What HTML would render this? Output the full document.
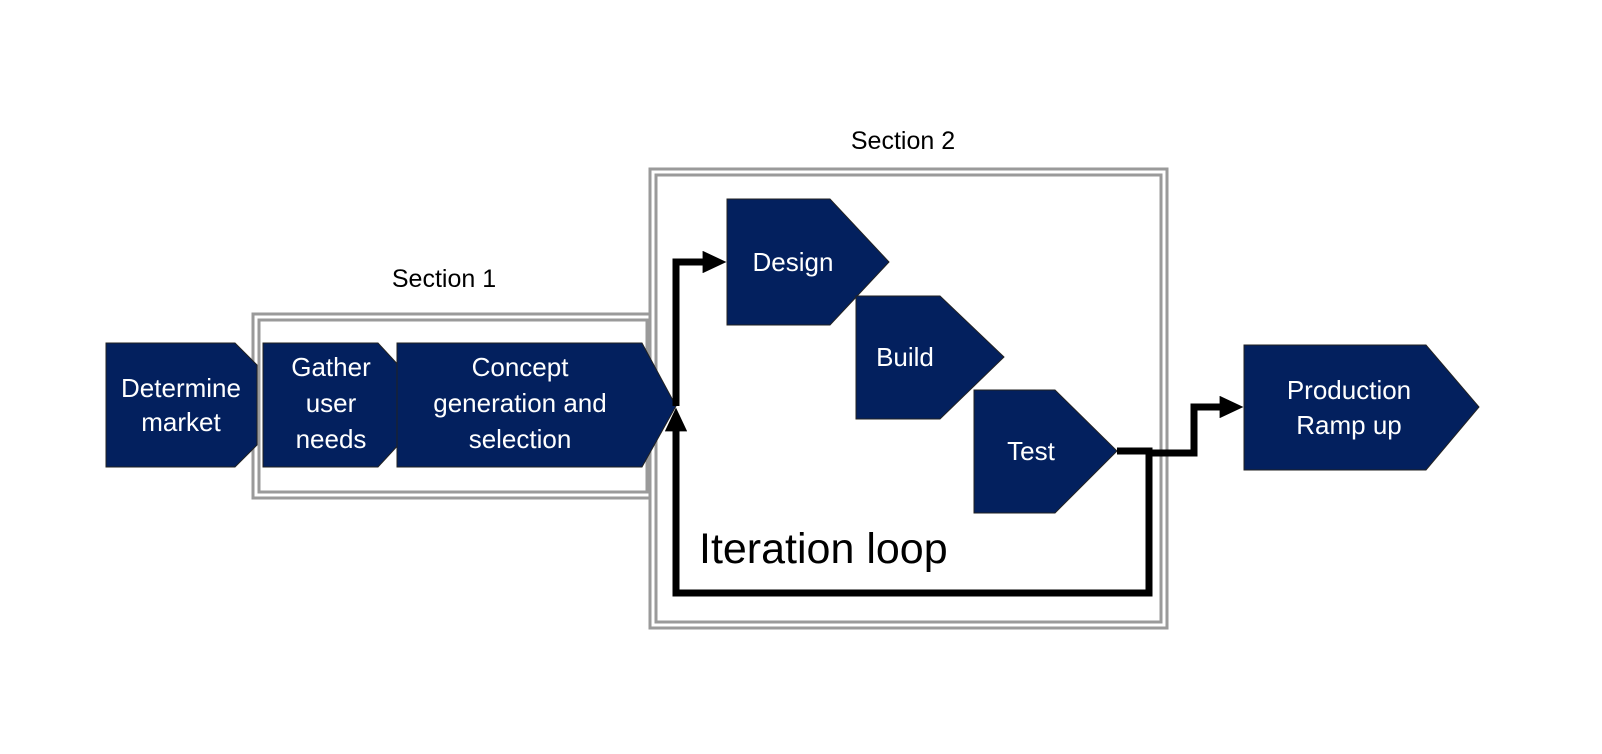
<!DOCTYPE html>
<html><head><meta charset="utf-8"><style>html,body{margin:0;padding:0;background:#fff}svg{display:block}</style></head>
<body>
<svg width="1602" height="754" viewBox="0 0 1602 754" xmlns="http://www.w3.org/2000/svg" font-family="Liberation Sans, sans-serif">
<defs>
<marker id="ah" markerWidth="3.4" markerHeight="3.2" refX="0.2" refY="1.6" orient="auto" markerUnits="strokeWidth"><path d="M0,0 L3.4,1.6 L0,3.2 z" fill="#000"/></marker>
</defs>
<rect x="256" y="317" width="394" height="178" fill="none" stroke="#9a9a9a" stroke-width="9"/>
<rect x="256" y="317" width="394" height="178" fill="none" stroke="#fff" stroke-width="3"/>
<rect x="653" y="172" width="511" height="453" fill="none" stroke="#9a9a9a" stroke-width="9"/>
<rect x="653" y="172" width="511" height="453" fill="none" stroke="#fff" stroke-width="3"/>
<g fill="#03205e" stroke="#222" stroke-width="1">
<polygon points="106,343 235,343 257,365 257,445 235,467 106,467"/>
<polygon points="263,343 378,343 401,368 401,442 378,467 263,467"/>
<polygon points="397,343 642,343 676,406 642,467 397,467"/>
<polygon points="727,199 830,199 889,262 830,325 727,325"/>
<polygon points="856,296 940,296 1004,357 940,419 856,419"/>
<polygon points="974,390 1055,390 1117,451 1055,513 974,513"/>
<polygon points="1244,345 1426,345 1479,407 1426,470 1244,470"/>
</g>
<g fill="none" stroke="#000" stroke-width="7">
<polyline points="676,406 676,262 704,262" marker-end="url(#ah)"/>
<polyline points="1117,451 1149,451 1149,593 676,593 676,430" marker-end="url(#ah)"/>
<polyline points="1149,453 1194,453 1194,407 1221,407" marker-end="url(#ah)"/>
</g>
<g fill="#fff" font-size="26" text-anchor="middle">
<text x="181" y="397">Determine</text><text x="181" y="431">market</text>
<text x="331" y="376">Gather</text><text x="331" y="412">user</text><text x="331" y="448">needs</text>
<text x="520" y="376">Concept</text><text x="520" y="412">generation and</text><text x="520" y="448">selection</text>
<text x="793" y="271">Design</text>
<text x="905" y="366">Build</text>
<text x="1031" y="460">Test</text>
<text x="1349" y="399">Production</text><text x="1349" y="434">Ramp up</text>
</g>
<g fill="#000">
<text x="444" y="287" font-size="25" text-anchor="middle">Section 1</text>
<text x="903" y="149" font-size="25" text-anchor="middle">Section 2</text>
<text x="699" y="563" font-size="43">Iteration loop</text>
</g>
</svg>
</body></html>
